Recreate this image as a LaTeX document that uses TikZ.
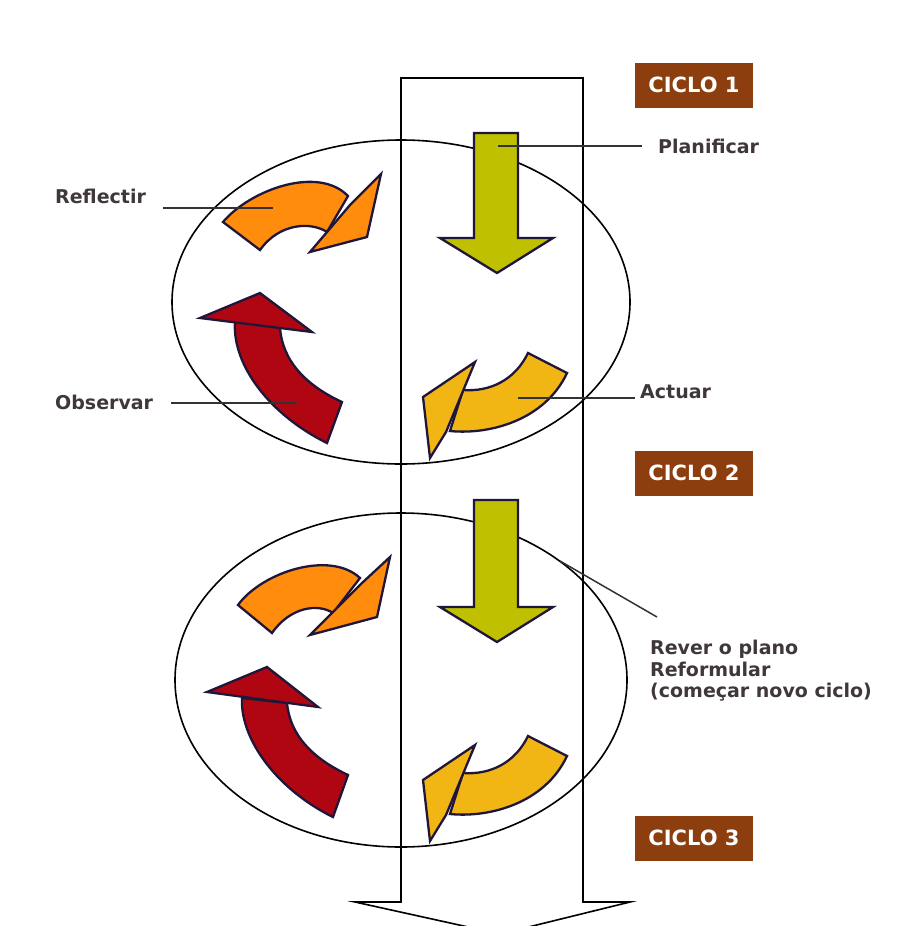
\documentclass[tikz,border=0pt]{standalone}
\usepackage{fontspec}
\setmainfont{DejaVu Sans}
\usepackage{xcolor}
\usepackage{tikz}

\definecolor{laranja}{RGB}{255,140,12}
\definecolor{vermelho}{RGB}{176,6,18}
\definecolor{dourado}{RGB}{242,182,20}
\definecolor{verde}{RGB}{190,192,0}
\definecolor{contorno}{RGB}{32,22,58}
\definecolor{castanho}{RGB}{140,62,14}
\definecolor{texto}{RGB}{64,56,56}

\begin{document}
\begin{tikzpicture}[x=1pt,y=-1pt,
    seta/.style={draw=contorno,line width=2.3pt},
    linha/.style={line width=1.6pt},
    guia/.style={draw=black!80,line width=1.5pt},
    lbl/.style={text=texto,font=\fontsize{19}{21.5}\selectfont\bfseries,inner sep=0pt,anchor=west},
    ciclo/.style={fill=castanho,text=white,font=\fontsize{21}{24}\selectfont\bfseries,
        minimum width=118pt,minimum height=45pt,inner sep=0pt}]
    \useasboundingbox[fill=white] (0,0) rectangle (909,926);

    \draw[linha] (401,302) ellipse [x radius=229pt, y radius=162pt];
    \draw[linha] (401,680) ellipse [x radius=226pt, y radius=167pt];
    \draw[linha] (401,78) -- (583,78) -- (583,902) -- (630,902) -- (500,934)
        -- (355,902) -- (401,902) -- cycle;

    % ciclo 1
    \draw[seta,fill=verde] (474,133) -- (518,133) -- (518,238) -- (553,238)
        -- (497,273) -- (440,238) -- (474,238) -- cycle;
    \draw[seta,fill=laranja] (223,222) .. controls (250,190) and (318,165) .. (348,196)
        -- (327,232) .. controls (312,222) and (280,222) .. (260,250) -- cycle;
    \draw[seta,fill=laranja] (350,205) -- (381,174) -- (367,237) -- (310,252) -- cycle;
    \draw[seta,fill=vermelho] (235,322) .. controls (232,365) and (270,415) .. (327,443)
        -- (342,402) .. controls (305,385) and (282,360) .. (280,327) -- cycle;
    \draw[seta,fill=vermelho] (200,318) -- (260,293) -- (312,332) -- cycle;
    \draw[seta,fill=dourado] (528,353) -- (567,373) .. controls (545,420) and (490,435) .. (450,431)
        -- (463,390) .. controls (490,392) and (515,380) .. (528,353) -- cycle;
    \draw[seta,fill=dourado] (475,362) -- (423,397) -- (430,458) -- (446,432) -- cycle;

    % ciclo 2
    \draw[seta,fill=verde] (474,500) -- (518,500) -- (518,607) -- (553,607)
        -- (497,642) -- (440,607) -- (474,607) -- cycle;
    \draw[seta,fill=laranja] (238,605) .. controls (262,572) and (330,550) .. (360,578)
        -- (333,613) .. controls (318,603) and (290,607) .. (272,633) -- cycle;
    \draw[seta,fill=laranja] (362,583) -- (390,557) -- (377,617) -- (310,635) -- cycle;
    \draw[seta,fill=vermelho] (242,698) .. controls (240,740) and (278,790) .. (333,817)
        -- (348,775) .. controls (312,758) and (290,735) .. (287,703) -- cycle;
    \draw[seta,fill=vermelho] (207,692) -- (267,667) -- (318,707) -- cycle;
    \draw[seta,fill=dourado] (528,736) -- (567,756) .. controls (545,803) and (490,818) .. (450,814)
        -- (463,773) .. controls (490,775) and (515,763) .. (528,736) -- cycle;
    \draw[seta,fill=dourado] (475,745) -- (423,780) -- (430,841) -- (446,815) -- cycle;

    % etiquetas
    \node[lbl] (planificar) at (658,146) {Planificar};
    \node[lbl] (reflectir) at (55,196) {Reflectir};
    \node[lbl] (observar) at (55,402) {Observar};
    \node[lbl] (actuar) at (640,392) {Actuar};
    \node[lbl,align=left] (rever) at (650,671) {Rever o plano\\Reformular\\(começar novo ciclo)};

    \coordinate (planificar-in) at (498,146);
    \coordinate (reflectir-in) at (273,208);
    \coordinate (observar-in) at (297,403);
    \coordinate (actuar-in) at (518,398);
    \coordinate (rever-in) at (560,561);
    \coordinate (rever-out) at (657,617);
    \draw[guia,shorten >=16pt] (planificar-in) -- (planificar.west);
    \draw[guia,shorten <=17pt] (reflectir.east |- reflectir-in) -- (reflectir-in);
    \draw[guia,shorten <=18pt] (observar.east |- observar-in) -- (observar-in);
    \draw[guia,shorten >=5pt] (actuar-in) -- (actuar-in -| actuar.west);
    \draw[guia] (rever-in) -- (rever-out);

    \node[ciclo] (ciclo1) at (694,85) {CICLO 1};
    \node[ciclo] (ciclo2) at (694,473) {CICLO 2};
    \node[ciclo] (ciclo3) at (694,838) {CICLO 3};
\end{tikzpicture}
\end{document}
